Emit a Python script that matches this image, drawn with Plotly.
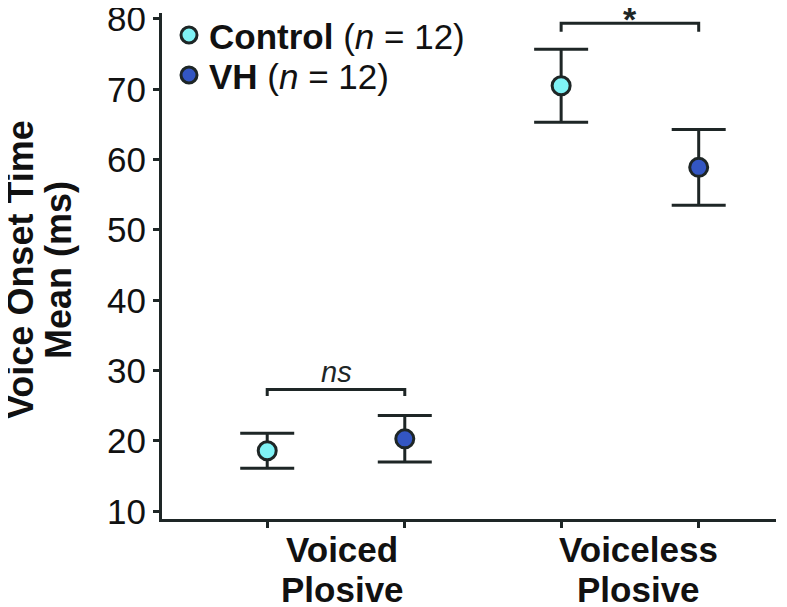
import plotly.graph_objects as go

# ---- data ----
categories = ["Voiced Plosive", "Voiceless Plosive"]
series_names = ["<b>Control</b> (<i>n</i> = 12)", "<b>VH</b> (<i>n</i> = 12)"]
control_mean = [18.6, 70.5]
control_err = [2.5, 5.2]
vh_mean = [20.3, 58.9]
vh_err = [3.3, 5.4]
sig_labels = ["ns", "*"]
bracket_y = [27.3, 79.4]
y_ticks = [10, 20, 30, 40, 50, 60, 70, 80]
y_title_lines = ["Voice Onset Time", "Mean (ms)"]

# ---- styling ----
FONT = "Arial, Liberation Sans, Helvetica, sans-serif"
DARK = "#1e2626"
TXT = "#111111"
colors = ["#7ff3f6", "#3356c2"]
group_pos = [1, 2]
offset = 0.234

fig = go.Figure()
means = [control_mean, vh_mean]
errs = [control_err, vh_err]
legends = ["legend", "legend2"]
for i in range(2):
    sign = -1 if i == 0 else 1
    xs = [g + sign * offset for g in group_pos]
    fig.add_trace(go.Scatter(
        x=xs, y=means[i], mode="markers", name=series_names[i],
        legend=legends[i],
        marker=dict(size=18, color=colors[i], line=dict(color=DARK, width=3)),
        error_y=dict(type="data", array=errs[i], visible=True, color=DARK,
                     thickness=3, width=27),
        cliponaxis=False,
    ))

# significance brackets
drop = [0.9, 1.2]
for k, g in enumerate(group_pos):
    x0, x1 = g - offset, g + offset
    yb = bracket_y[k]
    fig.add_shape(type="path",
                  path=f"M {x0},{yb - drop[k]} L {x0},{yb} L {x1},{yb} L {x1},{yb - drop[k]}",
                  xref="x", yref="y", line=dict(color=DARK, width=3))
    if sig_labels[k] == "*":
        fig.add_annotation(x=g, y=yb, text="<b>*</b>", showarrow=False,
                           yanchor="bottom", yshift=-17,
                           font=dict(family=FONT, size=34, color=DARK))
    else:
        fig.add_annotation(x=g, y=yb, text=f"<i>{sig_labels[k]}</i>", showarrow=False,
                           yanchor="bottom", yshift=0,
                           font=dict(family=FONT, size=29, color=DARK))

# category labels (two lines each)
line_shift = [-30, -70]
for k, g in enumerate(group_pos):
    for j, word in enumerate(categories[k].split(" ")):
        fig.add_annotation(x=g, y=0, xref="x", yref="paper", text=f"<b>{word}</b>",
                           showarrow=False, yanchor="middle", yshift=line_shift[j],
                           xshift=6 + 3 * k,
                           font=dict(family=FONT, size=35, color=TXT))

# y-axis title (two lines)
title_x = [-142, -104]
for j, line in enumerate(y_title_lines):
    fig.add_annotation(x=0, y=0.5, xref="paper", yref="paper", text=f"<b>{line}</b>",
                       showarrow=False, textangle=-90, xanchor="center", yanchor="middle",
                       xshift=title_x[j], yshift=-4,
                       font=dict(family=FONT, size=36, color=TXT))

# page body has an 8px default margin, so the figure is 8px smaller
fig.update_layout(
    width=779, height=599,
    margin=dict(l=154, r=11, t=5, b=88, autoexpand=False),
    paper_bgcolor="white", plot_bgcolor="white",
    font=dict(family=FONT, color=TXT, size=35),
    showlegend=True,
    legend=dict(x=0.0114, y=1.0143, xanchor="left", yanchor="top",
                font=dict(family=FONT, size=35, color=TXT),
                bgcolor="rgba(0,0,0,0)", itemsizing="trace"),
    legend2=dict(x=0.0114, y=0.9353, xanchor="left", yanchor="top",
                 font=dict(family=FONT, size=35, color=TXT),
                 bgcolor="rgba(0,0,0,0)", itemsizing="trace"),
)
fig.update_xaxes(
    range=[0.408, 2.497], showgrid=False, zeroline=False,
    showline=True, linecolor=DARK, linewidth=3,
    tickmode="array",
    tickvals=[g + s * offset for g in group_pos for s in (-1, 1)],
    showticklabels=False, automargin=False,
    ticks="outside", ticklen=6, tickwidth=2.5, tickcolor=DARK,
)
fig.update_yaxes(
    range=[8.9, 80.85], showgrid=False, zeroline=False,
    showline=True, linecolor=DARK, linewidth=3, automargin=False,
    tickmode="array", tickvals=y_ticks, ticklabeloverflow="allow",
    ticks="outside", ticklen=6, tickwidth=2.5, tickcolor=DARK,
    tickfont=dict(family=FONT, size=35, color=TXT),
)

fig.write_html("out.html")
